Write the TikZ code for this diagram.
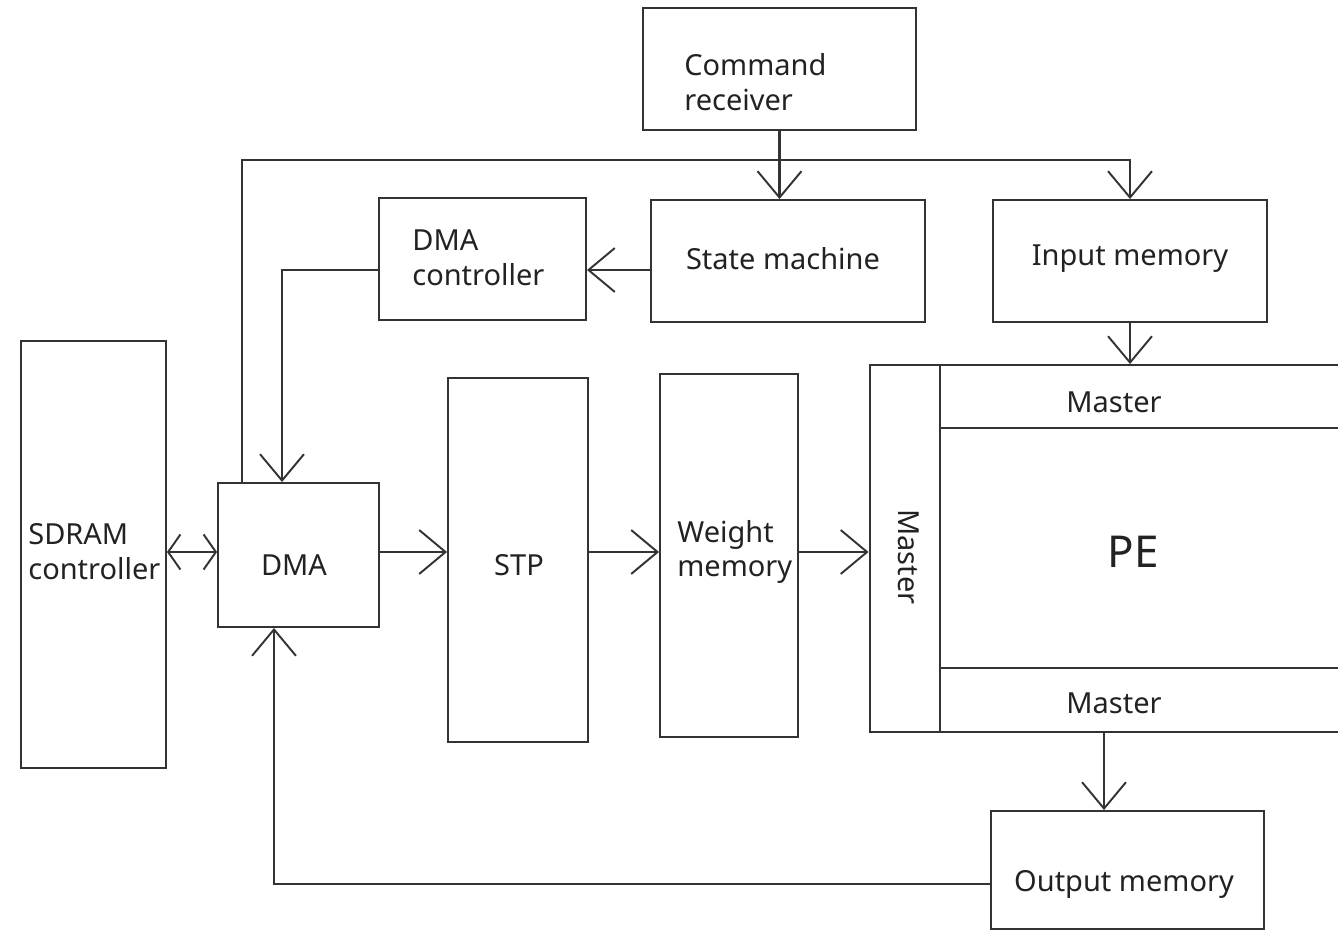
\documentclass[tikz,border=0pt]{standalone}
\usepackage{fontspec}
\setmainfont{Noto Sans}
\usetikzlibrary{arrows.meta}
\definecolor{linec}{HTML}{333333}
\definecolor{textc}{HTML}{222222}
\begin{document}
\begin{tikzpicture}[x=0.02cm,y=-0.02cm]
\tikzset{
  box/.style={draw=linec, line width=1.1pt, inner sep=0pt, rectangle},
  txt/.style={text=textc, inner sep=0pt, font=\fontsize{16.5}{19.8}\selectfont},
  bigtxt/.style={text=textc, inner sep=0pt, font=\fontsize{25}{30}\selectfont},
  barb/.tip={Straight Barb[length=15pt,width=25pt,line width=1.1pt]},
  smallbarb/.tip={Straight Barb[length=7pt,width=20pt,line width=1.1pt]},
  conn/.style={draw=linec, line width=1.2pt, -barb},
  conn2/.style={draw=linec, line width=1.2pt, smallbarb-smallbarb},
  partline/.style={draw=linec, line width=1.1pt},
}
\clip (0,0) rectangle (1338,932);

% blocks
\node[box, minimum width=5.46cm, minimum height=2.44cm] (cmd)   at (779.5,69)  {};
\node[box, minimum width=5.48cm, minimum height=2.44cm] (sm)    at (788,261)   {};
\node[box, minimum width=4.14cm, minimum height=2.44cm] (dmac)  at (482.5,259) {};
\node[box, minimum width=5.48cm, minimum height=2.44cm] (inmem) at (1130,261)  {};
\node[box, minimum width=2.90cm, minimum height=8.54cm] (sdram) at (93.5,554.5){};
\node[box, minimum width=3.22cm, minimum height=2.88cm] (dma)   at (298.5,555) {};
\node[box, minimum width=2.80cm, minimum height=7.28cm] (stp)   at (518,560)   {};
\node[box, minimum width=2.76cm, minimum height=7.26cm] (wmem)  at (729,555.5) {};
\node[box, minimum width=9.70cm, minimum height=7.34cm] (pe)    at (1112,548.5){};
\node[box, minimum width=5.46cm, minimum height=2.36cm] (outm)  at (1127.5,870){};

% PE internal partitions
\coordinate (pediv) at (940,0);
\draw[partline] (pediv |- pe.north) -- (pediv |- pe.south);
\draw[partline] (940,428) -- (1345,428);
\draw[partline] (940,668) -- (1345,668);

% labels
\node[txt, anchor=west, align=left] (cmd-t)  at (684,82)  {Command\\receiver};
\node[txt] (sm-t)    at (783,259)  {State machine};
\node[txt, anchor=west, align=left] (dmac-t) at (412,258) {DMA\\controller};
\node[txt] (inmem-t) at (1130,259) {Input memory};
\node[txt, anchor=west, align=left] (sdram-t) at (28,552) {SDRAM\\controller};
\node[txt] (dma-t)   at (294,565)  {DMA};
\node[txt] (stp-t)   at (519,565)  {STP};
\node[txt, anchor=west, align=left] (wmem-t) at (677,552) {Weight\\memory};
\node[txt] (m-top)   at (1114,402) {Master};
\node[txt] (m-bot)   at (1114,703) {Master};
\node[txt, rotate=-90] (m-left) at (909,557) {Master};
\node[bigtxt] (pe-t) at (1133,552) {PE};
\node[txt] (outm-t)  at (1124,884) {Output memory};

% control paths
\draw[conn] (cmd.south) -- (cmd.south |- sm.north);
\coordinate (bus) at (242,160);
\draw[conn] (bus |- dma.north) -- (bus) -| (inmem.north);
\coordinate (ctl) at (282,270);
\draw[conn] (ctl -| sm.west) -- (ctl -| dmac.east);
\draw[conn] (ctl -| dmac.west) -- (ctl) -- (ctl |- dma.north);

% data path
\coordinate (row) at (0,552);
\draw[conn2] (row -| sdram.east) -- (row -| dma.west);
\draw[conn] (row -| dma.east) -- (row -| stp.west);
\draw[conn] (row -| stp.east) -- (row -| wmem.west);
\draw[conn] (row -| wmem.east) -- (row -| pe.west);
\draw[conn] (inmem.south) -- (inmem.south |- pe.north);
\coordinate (outx) at (1104,0);
\draw[conn] (outx |- pe.south) -- (outx |- outm.north);
\coordinate (fb) at (274,884);
\draw[conn] (fb -| outm.west) -- (fb) -- (fb |- dma.south);
\end{tikzpicture}
\end{document}
